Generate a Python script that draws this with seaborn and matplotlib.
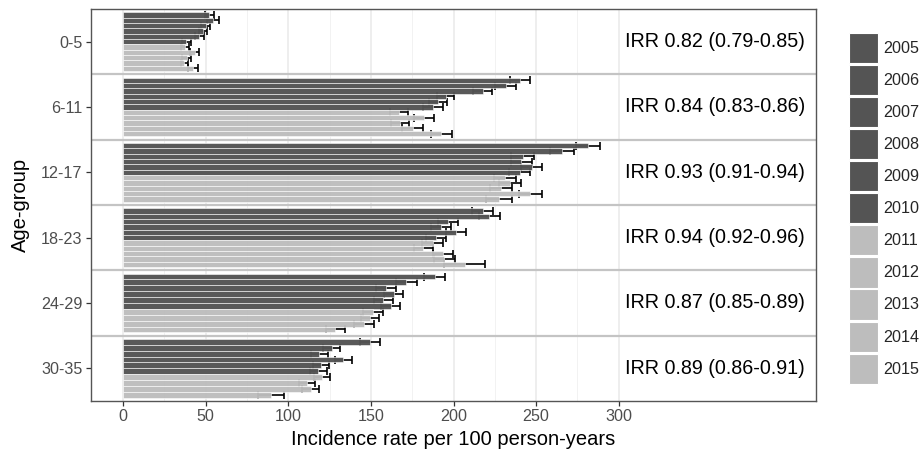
import numpy as np
import pandas as pd
import matplotlib
matplotlib.use("Agg")
import matplotlib.pyplot as plt
from matplotlib.patches import Patch
import seaborn as sns

# ---------------- data ----------------
age_groups = ["0-5", "6-11", "12-17", "18-23", "24-29", "30-35"]
years = ["2005", "2006", "2007", "2008", "2009", "2010",
         "2011", "2012", "2013", "2014", "2015"]
nan = np.nan

rate_0_5 = [52.2, 54.6, 50.0, 48.6, 46.2, 38.3, 37.7, 43.4, 38.5, 36.9, 42.2]
low_0_5 = [49.4, 50.9, 47.4, 46.2, 43.2, 35.5, 35.3, 40.6, 35.9, 34.7, 39.0]
up_0_5 = [55.0, 58.3, 52.6, 51.0, 49.2, 41.1, 40.1, 46.2, 41.1, 39.1, 45.4]

rate_6_11 = [240.2, 231.7, 217.6, 195.2, 190.6, 187.5, 167.0, 182.0, 167.6, 175.2, 192.6]
low_6_11 = [234.0, 225.4, 211.6, 189.8, 185.2, 181.6, 161.6, 176.0, 162.0, 169.1, 186.4]
up_6_11 = [246.4, 238.0, 223.6, 200.6, 196.0, 193.4, 172.4, 188.0, 173.2, 181.3, 198.8]

rate_12_17 = [281.3, 265.5, 241.8, 241.0, 247.4, 240.2, 231.2, 234.3, 228.8, 246.6, 227.6]
low_12_17 = [274.1, 258.2, 235.0, 234.7, 241.0, 233.8, 224.7, 227.7, 222.3, 239.4, 219.9]
up_12_17 = [288.5, 272.8, 248.6, 247.3, 253.8, 246.6, 237.7, 240.9, 235.3, 253.8, 235.3]

rate_18_23 = [217.6, 221.6, 196.6, 192.2, 201.4, 189.3, 187.3, 181.7, 193.7, 194.5, 206.7]
low_18_23 = [211.2, 215.2, 190.6, 186.2, 195.3, 183.2, 181.2, 176.1, 187.6, 188.0, 194.4]
up_18_23 = [224.0, 228.0, 202.6, 198.2, 207.5, 195.4, 193.4, 187.3, 199.8, 201.0, 219.0]

rate_24_29 = [188.5, 171.4, 159.0, 163.9, 157.5, 161.9, 151.4, 149.4, 145.8, 128.4, nan]
low_24_29 = [182.1, 165.2, 152.9, 158.2, 151.9, 156.3, 145.3, 143.8, 139.8, 122.8, nan]
up_24_29 = [194.9, 177.6, 165.1, 169.6, 163.1, 167.5, 157.5, 155.0, 151.8, 134.0, nan]

rate_30_35 = [149.4, 126.2, 118.8, 133.3, 119.6, 118.2, 120.4, 111.1, 113.5, 89.5, nan]
low_30_35 = [143.3, 121.2, 113.6, 128.1, 114.8, 113.2, 115.6, 106.3, 108.2, 81.6, nan]
up_30_35 = [155.5, 131.2, 124.0, 138.5, 124.4, 123.2, 125.2, 115.9, 118.8, 97.4, nan]

irr_labels = ["IRR 0.82 (0.79-0.85)", "IRR 0.84 (0.83-0.86)",
              "IRR 0.93 (0.91-0.94)", "IRR 0.94 (0.92-0.96)",
              "IRR 0.87 (0.85-0.89)", "IRR 0.89 (0.86-0.91)"]

x_ticks = [0, 50, 100, 150, 200, 250, 300]

rates = [rate_0_5, rate_6_11, rate_12_17, rate_18_23, rate_24_29, rate_30_35]
lows = [low_0_5, low_6_11, low_12_17, low_18_23, low_24_29, low_30_35]
ups = [up_0_5, up_6_11, up_12_17, up_18_23, up_24_29, up_30_35]

# ---------------- style ----------------
sns.set_theme(style="white")
plt.rcParams["font.family"] = ["Liberation Sans", "DejaVu Sans"]

dark = "#545454"
light = "#bdbdbd"
palette = {y: (dark if int(y) <= 2010 else light) for y in years}

fig, ax = plt.subplots(figsize=(9.21, 4.49), dpi=100)
fig.subplots_adjust(left=0.0988, right=0.886, top=0.98, bottom=0.1069)

for gi in range(len(age_groups)):
    df = pd.DataFrame({"year": years, "rate": rates[gi],
                       "lower": lows[gi], "upper": ups[gi]}).dropna()
    df["pos"] = gi
    n_before = len(ax.patches)
    sns.barplot(data=df, x="rate", y="pos", hue="year",
                hue_order=list(df["year"]), palette=palette,
                orient="h", native_scale=True, width=0.9, errorbar=None,
                saturation=1, alpha=0.97, edgecolor="white", linewidth=0.4,
                legend=False, ax=ax)
    new = ax.patches[n_before:]
    ys = []
    for r in df["rate"]:
        p = min(new, key=lambda q: abs(q.get_width() - r))
        ys.append(p.get_y() + p.get_height() / 2)
    ax.errorbar(df["rate"], ys,
                xerr=[df["rate"] - df["lower"], df["upper"] - df["rate"]],
                fmt="none", ecolor="black", elinewidth=1.2, capsize=2.6,
                capthick=1.2, zorder=0.9)
    ax.text(304, gi, irr_labels[gi], ha="left", va="center",
            fontsize=14.2, color="black")

# separators between age groups
for b in np.arange(0.5, len(age_groups) - 0.5, 1.0):
    ax.axhline(b, color="#c4c4c4", lw=1.6, zorder=2)

ax.set_xlim(-19.5, 419.5)
ax.set_ylim(len(age_groups) - 0.5, -0.5)
ax.set_yticks(range(len(age_groups)))
ax.set_yticklabels(age_groups)
ax.set_xticks(x_ticks)
ax.set_xticklabels([str(t) for t in x_ticks])
ax.set_xticks([t + 25 for t in x_ticks[:-1]], minor=True)

ax.set_axisbelow(True)
ax.xaxis.grid(True, which="major", color="#ebebeb", lw=1.2)
ax.xaxis.grid(True, which="minor", color="#f2f2f2", lw=0.7)
ax.yaxis.grid(False)

ax.tick_params(axis="both", which="major", length=3.6, width=0.9,
               color="#333333", labelcolor="#4d4d4d", labelsize=11.6, pad=2.5)
ax.tick_params(axis="x", which="minor", length=0)
ax.tick_params(axis="x", which="major", bottom=True)
ax.tick_params(axis="y", which="major", left=True)

for s in ax.spines.values():
    s.set_color("#555555")
    s.set_linewidth(1.0)

ax.set_xlabel("Incidence rate per 100 person-years", fontsize=14.5,
              color="black", labelpad=4)
ax.set_ylabel("Age-group", fontsize=14.5, color="black")
ax.yaxis.set_label_coords(-0.084, 0.5)

handles = [Patch(facecolor=palette[y], edgecolor="white", lw=0.8)
           for y in years]
fig.legend(handles, years, loc="upper left",
           bbox_to_anchor=(849 / 921, 1 - 33 / 449), frameon=False,
           fontsize=11.6, handlelength=1.8, handleheight=2.5,
           labelspacing=0.12, handletextpad=0.31, borderpad=0,
           borderaxespad=0)

fig.savefig("out.png", dpi=100)
